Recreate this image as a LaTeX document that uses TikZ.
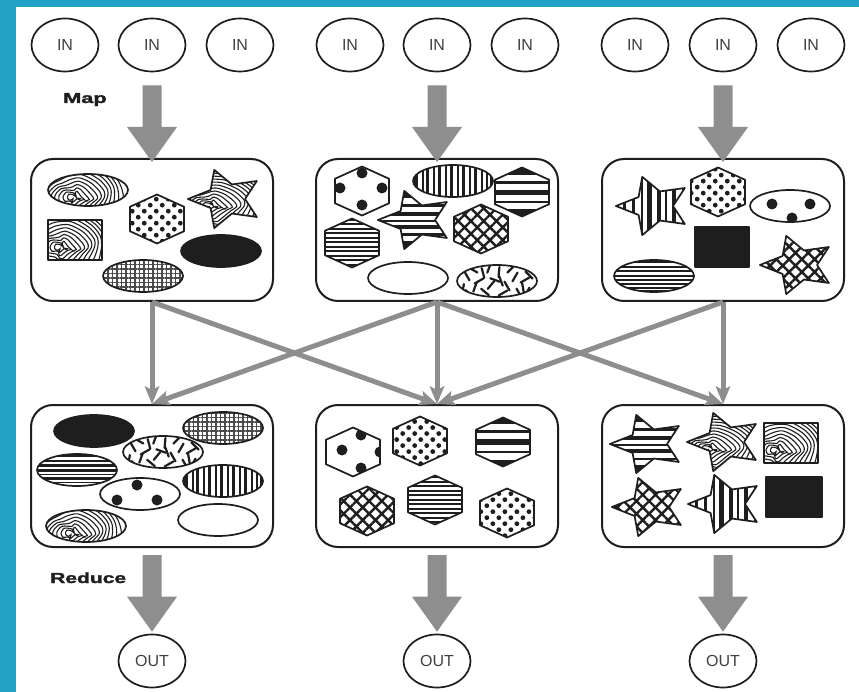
\documentclass[tikz,border=0pt]{standalone}
\usepackage{fontspec}
\usepackage{graphicx}
\setmainfont{Liberation Sans}
\newfontfamily\phasefont{Liberation Sans}[BoldFeatures={FakeBold=1.6}]
\usetikzlibrary{shapes.geometric, arrows.meta, patterns.meta, calc}

\definecolor{frame}{HTML}{22A2C4}
\definecolor{flow}{HTML}{8E8E8E}
\definecolor{ink}{HTML}{1E1E1E}

\tikzset{
  io/.style={ellipse, draw=ink, line width=1.7pt, minimum width=67pt, minimum height=53pt,
    inner sep=0pt, font=\fontsize{16}{16}\selectfont, text=ink!85},
  stage/.style={draw=ink, line width=2pt, rounded corners=22pt,
    minimum width=242pt, minimum height=142pt},
  phase/.style={font=\phasefont\bfseries\fontsize{14.5}{15}\selectfont, inner sep=0pt, text=ink},
  shuffle/.style={draw=flow, line width=5pt,
    -{Stealth[length=18pt, width=15pt, inset=4pt, line width=0pt]}},
  shapeline/.style={draw=ink, line width=1.7pt, line join=round},
}

% thick grey block arrow from one anchor down to another
% #1 start anchor, #2 end anchor, #3 gap below start, #4 overshoot of tip
\newcommand\bigflow[4]{%
  \fill[flow] let \p1=(#1), \p2=(#2) in
    ({\x1-9.5pt},{\y1-#3}) -- ({\x1-9.5pt},{\y2-#4+35pt}) -- ({\x1-25pt},{\y2-#4+35pt})
    -- ({\x1},{\y2-#4}) -- ({\x1+25pt},{\y2-#4+35pt}) -- ({\x1+9.5pt},{\y2-#4+35pt})
    -- ({\x1+9.5pt},{\y1-#3}) -- cycle;}

% outlines of the small shapes, centred on the origin
\newcommand\hexoutline[1]{\path[#1] (-27,-12.25) -- (0,-24.5) -- (27,-12.25) -- (27,12.25)
  -- (0,24.5) -- (-27,12.25) -- cycle;}
\newcommand\staroutline[1]{\path[#1] (36:34) -- (72:17) -- (108:34) -- (144:17) -- (180:34)
  -- (216:17) -- (252:34) -- (288:17) -- (324:34) -- (0:17) -- cycle;}
\newcommand\ovaloutline[1]{\path[#1] (0,0) ellipse [x radius=40, y radius=16];}

% shape with a texture: #1 centre, #2 texture code
\newcommand\hexa[2]{\begin{scope}[shift={(#1)}]\begin{scope}\hexoutline{clip}#2\end{scope}\hexoutline{shapeline}\end{scope}}
\newcommand\starry[2]{\begin{scope}[shift={(#1)}, xscale=1.12, yscale=0.9]\begin{scope}\staroutline{clip}#2\end{scope}\staroutline{shapeline}\end{scope}}
\newcommand\ovalshape[2]{\begin{scope}[shift={(#1)}]\begin{scope}\ovaloutline{clip}#2\end{scope}\ovaloutline{shapeline}\end{scope}}
% rectangle: #1 centre, #2 half width, #3 half height, #4 texture
\newcommand\tile[4]{\begin{scope}[shift={(#1)}]\begin{scope}\clip (-#2,-#3) rectangle (#2,#3);#4\end{scope}\draw[shapeline] (-#2,-#3) rectangle (#2,#3);\end{scope}}

% textures
\newcommand\txblack{\fill[ink] (-60,-60) rectangle (60,60);}
\newcommand\txwhite{}
\newcommand\txmarble{\foreach \k in {1,...,12}{\draw[ink, line width=1.1pt]
  plot[smooth cycle, samples=15, domain=0:336]
  ({-14+4.3*\k*cos(\x)+2.6*sin(3*\x+25*\k)}, {8+3.2*\k*sin(\x)+2*cos(4*\x+15*\k)});}}
\newcommand\txsticks{\foreach \sx/\sy/\sa in {-30/-5/60, -22/6/110, -14/-8/75, -6/4/130,
  2/-9/95, 10/5/60, 18/-4/120, 26/7/80, 32/-6/45, -34/8/100, -12/11/40, 6/12/150,
  22/12/60, -2/-1/20, 14/-12/135, -24/-11/30, -18/0/150, 4/0/70, 28/-1/150, -8/-13/110,
  30/11/120, -28/13/50}{\draw[ink, line width=2.2pt, line cap=round]
  (\sx,\sy) +(\sa:-5) -- +(\sa:5);}}
\newcommand\txchecks{\fill[pattern={Hatch[angle=0,distance=4.5pt,line width=1.3pt]},
  pattern color=ink!80] (-60,-60) rectangle (60,60);}
\newcommand\txlattice{\fill[pattern={Hatch[angle=45,distance=9pt,line width=2.4pt]},
  pattern color=ink] (-60,-60) rectangle (60,60);}
\newcommand\txdots{\fill[pattern={Dots[distance=8.5pt,radius=2.4pt,angle=45]},
  pattern color=ink] (-60,-60) rectangle (60,60);}
\newcommand\txbigdots[1]{\foreach \sx/\sy in {#1}{\fill[ink] (\sx,\sy) circle[radius=5.5];}}
\newcommand\txhbands[1]{\foreach \sa/\sb in {#1}{\fill[ink] (-60,\sa) rectangle (60,\sb);}}
\newcommand\txvbands[1]{\foreach \sa/\sb in {#1}{\fill[ink] (\sa,-60) rectangle (\sb,60);}}
\newcommand\txfine{\foreach \sa in {-24,-19.5,...,24}{\fill[ink] (-60,\sa) rectangle (60,{\sa+2});}}

\begin{document}
\begin{tikzpicture}[x=1pt, y=-1pt]
\useasboundingbox (0,0) rectangle (859,692);
\fill[white] (0,0) rectangle (859,692);
\fill[frame] (0,0) rectangle (16,692);
\fill[frame] (0,0) rectangle (859,7);

% input splits
\foreach \n/\px in {1/65,2/152,3/240,4/350,5/437,6/525,7/635,8/723,9/811}
  \node[io] (in\n) at (\px,45) {IN};

% map and reduce stages
\node[stage] (map1) at (152,230) {};
\node[stage] (map2) at (437,230) {};
\node[stage] (map3) at (723,230) {};
\node[stage] (red1) at (152,476) {};
\node[stage] (red2) at (437,476) {};
\node[stage] (red3) at (723,476) {};

% outputs
\foreach \n/\px in {1/152,2/437,3/723}
  \node[io] (out\n) at (\px,661) {OUT};

% phase labels
\node[phase, anchor=base west] (maplabel) at (63,103) {\scalebox{1.5}[1]{Map}};
\node[phase, anchor=base west] (redlabel) at (50,583) {\scalebox{1.45}[1]{Reduce}};

% block arrows
\bigflow{in2.south}{map1.north}{13pt}{4pt}
\bigflow{in5.south}{map2.north}{13pt}{4pt}
\bigflow{in8.south}{map3.north}{13pt}{4pt}
\bigflow{red1.south}{out1.north}{7pt}{-2pt}
\bigflow{red2.south}{out2.north}{7pt}{-2pt}
\bigflow{red3.south}{out3.north}{7pt}{-2pt}

% shuffle between the stages
\draw[shuffle] (map1.south) -- (red1.north);
\draw[shuffle] (map1.south) -- (red2.north);
\draw[shuffle] (map2.south) -- (red1.north);
\draw[shuffle] (map2.south) -- (red2.north);
\draw[shuffle] (map2.south) -- (red3.north);
\draw[shuffle] (map3.south) -- (red2.north);
\draw[shuffle] (map3.south) -- (red3.north);

% ---- first map stage
\ovalshape{88,190}{\txmarble}
\hexa{157,219}{\txdots}
\starry{226,199}{\txmarble}
\tile{75,240}{27}{20}{\txmarble}
\ovalshape{221,251}{\txblack}
\ovalshape{143,276}{\txchecks}

% ---- second map stage
\hexa{362,191}{\txbigdots{0/-18,-22/-3,20/-3,0/14}}
\ovalshape{453,181}{\txvbands{-40/-35,-31/-29,-27/-24,-20/-18,-15/-12,-8/-6,-3/0,4/6,9/12,16/18,21/24,28/30,33/35,37/40}}
\hexa{522,192}{\txhbands{-25/-17,-11/-8,-2/3,9/11,17/25}}
\starry{416,220}{\txhbands{-34/-24,-18/-14,-9/-4,0/2,6/10,15/18,23/34}}
\hexa{481,229}{\txlattice}
\hexa{352,243}{\txfine}
\ovalshape{408,278}{\txwhite}
\ovalshape{497,281}{\txsticks}

% ---- third map stage
\starry{654,206}{\txvbands{-40/-34,-28/-25,-20/-17,-12/-10,-6/-2,3/6,10/12,16/20,25/28,33/40}}
\hexa{718,192}{\txdots}
\ovalshape{790,206}{\txbigdots{-18/-2,20/-2,2/12}}
\tile{722,247}{27}{20}{\txblack}
\ovalshape{654,276}{\txhbands{-17/-13,-10/-8,-6/-3.5,-1/1.5,3.5/5,7/9.5,11.5/13,14.5/17}}
\starry{798,265}{\txlattice}

% ---- first reduce stage
\ovalshape{94,431}{\txblack}
\ovalshape{223,428}{\txchecks}
\ovalshape{163,452}{\txsticks}
\ovalshape{77,470}{\txhbands{-17/-13,-10/-8,-6/-3.5,-1/1.5,3.5/5,7/9.5,11.5/13,14.5/17}}
\ovalshape{223,481}{\txvbands{-40/-35,-31/-29,-27/-24,-20/-18,-15/-12,-8/-6,-3/0,4/6,9/12,16/18,21/24,28/30,33/35,37/40}}
\ovalshape{140,494}{\txbigdots{-3/-9,-23/6,17/6}}
\ovalshape{86,526}{\txmarble}
\ovalshape{218,520}{\txwhite}

% ---- second reduce stage
\hexa{353,452}{\txbigdots{8/-17,-11/-2,8/16,27/0}}
\hexa{420,441}{\txdots}
\hexa{503,442}{\txhbands{-25/-18,-12/-9,-3/3,9/11,18/25}}
\hexa{367,511}{\txlattice}
\hexa{435,500}{\txfine}
\hexa{507,513}{\txdots}

% ---- third reduce stage
\starry{648,444}{\txhbands{-34/-24,-18/-14,-9/-4,0/2,6/10,15/18,23/34}}
\starry{725,442}{\txmarble}
\tile{791,443}{27}{20}{\txmarble}
\starry{650,507}{\txlattice}
\starry{726,504}{\txvbands{-40/-34,-28/-25,-20/-17,-12/-10,-6/-2,3/6,10/12,16/20,25/28,33/40}}
\tile{794,497}{28}{20}{\txblack}
\end{tikzpicture}
\end{document}
